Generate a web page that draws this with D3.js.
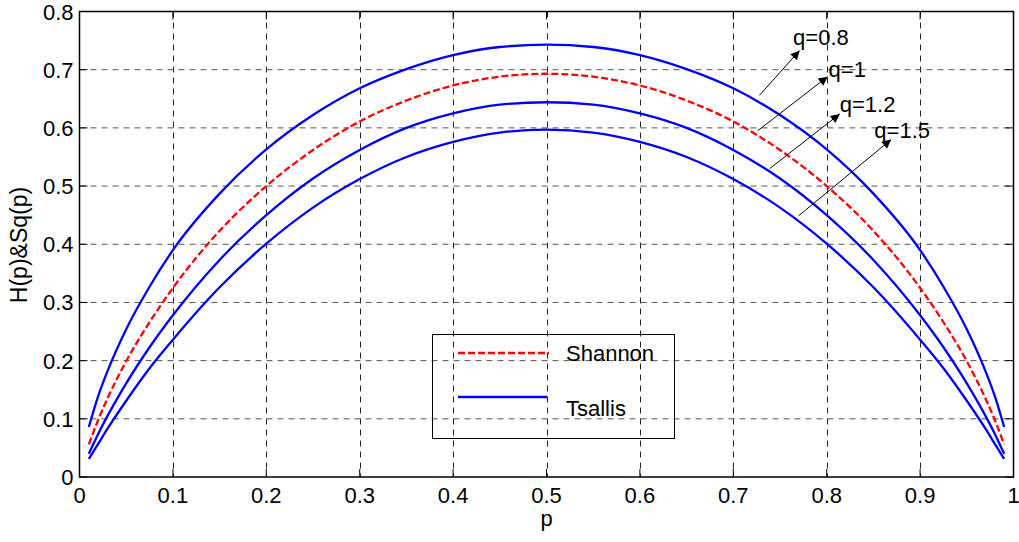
<!DOCTYPE html>
<html>
<head>
<meta charset="utf-8">
<script src="https://cdn.jsdelivr.net/npm/d3@7"></script>
<style>
  html, body { margin: 0; padding: 0; background: #fff; }
  svg { display: block; }
  text { font-family: "Liberation Sans", Arial, Helvetica, sans-serif; fill: #000; }
</style>
</head>
<body>
<svg id="chart" width="1019" height="542"></svg>
<script>
// Probability values p at which the entropies are sampled
const pValues = [0.01, 0.02, 0.03, 0.05, 0.075, 0.1, 0.15, 0.2, 0.25, 0.3, 0.35, 0.4, 0.45, 0.5,
                 0.55, 0.6, 0.65, 0.7, 0.75, 0.8, 0.85, 0.9, 0.925, 0.95, 0.97, 0.98, 0.99];

// Shannon entropy H(p)
const shannon = [0.056, 0.098, 0.135, 0.199, 0.266, 0.325, 0.423, 0.500, 0.562, 0.611, 0.647, 0.673, 0.688, 0.693,
                 0.688, 0.673, 0.647, 0.611, 0.562, 0.500, 0.423, 0.325, 0.266, 0.199, 0.135, 0.098, 0.056];

// Tsallis entropy Sq(p) for several q
const tsallisQ08 = [0.086, 0.139, 0.182, 0.254, 0.327, 0.390, 0.487, 0.563, 0.622, 0.668, 0.701, 0.725, 0.739, 0.743,
                    0.739, 0.725, 0.701, 0.668, 0.622, 0.563, 0.487, 0.390, 0.327, 0.254, 0.182, 0.139, 0.086];
const tsallisQ12 = [0.040, 0.074, 0.105, 0.161, 0.223, 0.278, 0.373, 0.450, 0.513, 0.562, 0.600, 0.625, 0.640, 0.644,
                    0.640, 0.625, 0.600, 0.562, 0.513, 0.450, 0.373, 0.278, 0.223, 0.161, 0.105, 0.074, 0.040];
const tsallisQ15 = [0.031, 0.057, 0.083, 0.131, 0.187, 0.236, 0.326, 0.401, 0.463, 0.512, 0.550, 0.576, 0.592, 0.597,
                    0.592, 0.576, 0.550, 0.512, 0.463, 0.401, 0.326, 0.236, 0.187, 0.131, 0.083, 0.057, 0.031];

const xTicks = [0, 0.1, 0.2, 0.3, 0.4, 0.5, 0.6, 0.7, 0.8, 0.9, 1];
const yTicks = [0, 0.1, 0.2, 0.3, 0.4, 0.5, 0.6, 0.7, 0.8];
const xTickLabels = ["0", "0.1", "0.2", "0.3", "0.4", "0.5", "0.6", "0.7", "0.8", "0.9", "1"];
const yTickLabels = ["0", "0.1", "0.2", "0.3", "0.4", "0.5", "0.6", "0.7", "0.8"];

// Arrow annotations: label, tail point, head point, label anchor (data units)
const annotLabels = ["q=0.8", "q=1", "q=1.2", "q=1.5"];
const annotTail = [[0.728, 0.656], [0.726, 0.595], [0.739, 0.530], [0.770, 0.449]];
const annotHead = [[0.771, 0.733], [0.801, 0.688], [0.814, 0.624], [0.869, 0.580]];
const annotText = [[0.764, 0.742], [0.802, 0.687], [0.814, 0.627], [0.851, 0.582]];

const svg = d3.select("#chart");
const plotLeft = 79.5, plotRight = 1013.5, plotTop = 11.5, plotBottom = 477;

const x = d3.scaleLinear().domain([0, 1]).range([plotLeft, plotRight]);
const y = d3.scaleLinear().domain([0, 0.8]).range([plotBottom, plotTop]);

const FONT = 22;

// grid lines
const grid = svg.append("g");
grid.selectAll("line.v").data(xTicks.slice(1, -1)).join("line")
  .attr("x1", d => Math.round(x(d)) + 0.5).attr("x2", d => Math.round(x(d)) + 0.5)
  .attr("y1", plotTop).attr("y2", plotBottom)
  .attr("stroke", "#222").attr("stroke-width", 1).attr("stroke-dasharray", "6,5");
grid.selectAll("line.h").data(yTicks.slice(1, -1)).join("line")
  .attr("x1", plotLeft).attr("x2", plotRight)
  .attr("y1", d => y(d)).attr("y2", d => y(d))
  .attr("stroke", "#555").attr("stroke-width", 1).attr("stroke-dasharray", "6,5");

// curves
const line = d3.line().x((d, i) => x(pValues[i])).y(d => y(d)).curve(d3.curveMonotoneX);
const plot = svg.append("g");
[tsallisQ08, tsallisQ12, tsallisQ15].forEach(s => {
  plot.append("path").attr("d", line(s))
    .attr("fill", "none").attr("stroke", "#0000ff").attr("stroke-width", 2.3)
    .attr("stroke-linejoin", "round");
});
plot.append("path").attr("d", line(shannon))
  .attr("fill", "none").attr("stroke", "#ff0000").attr("stroke-width", 2.3)
  .attr("stroke-dasharray", "7,3");

// axes box and inward ticks
const axisG = svg.append("g");
axisG.append("rect").attr("x", plotLeft).attr("y", plotTop)
  .attr("width", plotRight - plotLeft).attr("height", plotBottom - plotTop)
  .attr("fill", "none").attr("stroke", "#000").attr("stroke-width", 1.5);

const tl = 8;
axisG.selectAll("line.xb").data(xTicks).join("line")
  .attr("x1", d => x(d)).attr("x2", d => x(d)).attr("y1", plotBottom).attr("y2", plotBottom - tl)
  .attr("stroke", "#000").attr("stroke-width", 1);
axisG.selectAll("line.xt").data(xTicks).join("line")
  .attr("x1", d => x(d)).attr("x2", d => x(d)).attr("y1", plotTop).attr("y2", plotTop + tl)
  .attr("stroke", "#000").attr("stroke-width", 1);
axisG.selectAll("line.yl").data(yTicks).join("line")
  .attr("x1", plotLeft).attr("x2", plotLeft + tl).attr("y1", d => y(d)).attr("y2", d => y(d))
  .attr("stroke", "#000").attr("stroke-width", 1);
axisG.selectAll("line.yr").data(yTicks).join("line")
  .attr("x1", plotRight).attr("x2", plotRight - tl).attr("y1", d => y(d)).attr("y2", d => y(d))
  .attr("stroke", "#000").attr("stroke-width", 1);

// tick labels
axisG.selectAll("text.xl").data(xTicks).join("text")
  .attr("x", d => x(d)).attr("y", plotBottom + 26)
  .attr("text-anchor", "middle").attr("font-size", FONT)
  .text((d, i) => xTickLabels[i]);
axisG.selectAll("text.yl").data(yTicks).join("text")
  .attr("x", plotLeft - 6).attr("y", d => y(d) + 8)
  .attr("text-anchor", "end").attr("font-size", FONT)
  .text((d, i) => yTickLabels[i]);

// axis titles
svg.append("text").attr("x", (plotLeft + plotRight) / 2).attr("y", 526)
  .attr("text-anchor", "middle").attr("font-size", FONT).text("p");
svg.append("text").attr("transform", `translate(27,245) rotate(-90)`)
  .attr("text-anchor", "middle").attr("font-size", 23).text("H(p)&Sq(p)");

// legend
const lg = svg.append("g");
lg.append("rect").attr("x", 432.5).attr("y", 334.5).attr("width", 242).attr("height", 104)
  .attr("fill", "none").attr("stroke", "#000").attr("stroke-width", 1);
lg.append("line").attr("x1", 458).attr("x2", 549).attr("y1", 353).attr("y2", 353)
  .attr("stroke", "#ff0000").attr("stroke-width", 2.3).attr("stroke-dasharray", "7,3");
lg.append("line").attr("x1", 458).attr("x2", 547).attr("y1", 397).attr("y2", 397)
  .attr("stroke", "#0000ff").attr("stroke-width", 2.3);
lg.append("text").attr("x", 566).attr("y", 361).attr("font-size", FONT).text("Shannon");
lg.append("text").attr("x", 566).attr("y", 416).attr("font-size", FONT).text("Tsallis");

// arrow annotations
const defs = svg.append("defs");
defs.append("marker").attr("id", "arrowHead")
  .attr("viewBox", "0 0 10 10").attr("refX", 10).attr("refY", 5)
  .attr("markerWidth", 12).attr("markerHeight", 9).attr("markerUnits", "userSpaceOnUse")
  .attr("orient", "auto")
  .append("path").attr("d", "M0,0 L10,5 L0,10 Z").attr("fill", "#000");

const ann = svg.append("g");
annotLabels.forEach((lab, i) => {
  ann.append("line")
    .attr("x1", x(annotTail[i][0])).attr("y1", y(annotTail[i][1]))
    .attr("x2", x(annotHead[i][0])).attr("y2", y(annotHead[i][1]))
    .attr("stroke", "#000").attr("stroke-width", 1)
    .attr("marker-end", "url(#arrowHead)");
  ann.append("text").attr("x", x(annotText[i][0])).attr("y", y(annotText[i][1]))
    .attr("font-size", FONT).text(lab);
});
</script>
</body>
</html>
